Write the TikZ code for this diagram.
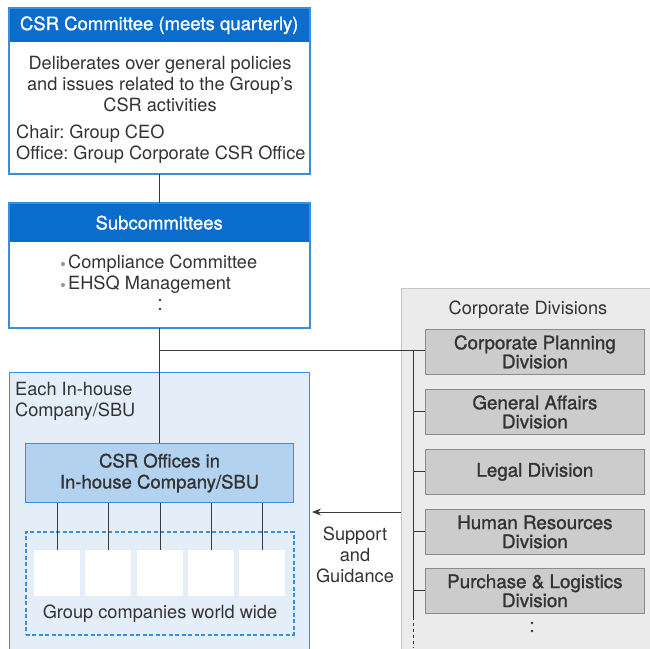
\documentclass[tikz,border=0pt]{standalone}
\usepackage{fontspec}
\setmainfont{TeX Gyre Heros}
\newfontfamily\medfont[FakeBold=1.2]{TeX Gyre Heros}
\usetikzlibrary{arrows.meta}
\definecolor{hdr}{HTML}{0A6CCB}
\definecolor{bdr}{HTML}{3A8EE0}
\definecolor{inhouse}{HTML}{E4EEF9}
\definecolor{office}{HTML}{B3D2EF}
\definecolor{graybg}{HTML}{EBEBEB}
\definecolor{graybd}{HTML}{C4C4C4}
\definecolor{divfill}{HTML}{CCCCCC}
\definecolor{divbd}{HTML}{8A8A8A}
\definecolor{txt}{HTML}{333333}
\definecolor{lnc}{HTML}{3A3A3A}
\definecolor{bul}{HTML}{9A9A9A}
\frenchspacing
\tikzset{
  bluebox/.style={draw=bdr, line width=1.1pt, fill=white, inner sep=0pt, anchor=north west},
  hdrbox/.style={fill=hdr, text=white, inner sep=0pt, anchor=north west, font=\medfont\fontsize{18.5}{21}\selectfont},
  divbox/.style={draw=divbd, line width=0.8pt, fill=divfill, inner sep=0pt, anchor=north west,
     minimum width=219, minimum height=45, align=center, font=\medfont\fontsize{18.8}{19}\selectfont},
  conn/.style={draw=lnc, line width=0.9pt},
  gbox/.style={fill=white, inner sep=0pt, anchor=north west, minimum width=46, minimum height=46},
}
\begin{document}
\begin{tikzpicture}[x=1pt,y=-1pt, font=\fontsize{18.2}{21}\selectfont, text=txt]
\useasboundingbox (0,0) rectangle (650,648);
\clip (0,0) rectangle (650,648);

% ---- CSR Committee
\node[bluebox, minimum width=300, minimum height=165] (csr) at (9,8) {};
\node[hdrbox, minimum width=300, minimum height=34] (csrh) at (9,8) {CSR Committee (meets quarterly)};
\draw[draw=bdr, line width=1.1pt] (csr.north west) rectangle (csr.south east);
\node[align=center] (csrt) at (160,84) {Deliberates over general policies\\and issues related to the Group’s\\CSR activities};
\node[align=left, anchor=west, inner sep=0pt] (csrc) at (16,144.5) {Chair: Group CEO\\Office: Group Corporate CSR Office};

% ---- Subcommittees
\node[bluebox, minimum width=300, minimum height=124] (sub) at (9,203) {};
\node[hdrbox, minimum width=300, minimum height=39] (subh) at (9,203) {Subcommittees};
\draw[draw=bdr, line width=1.1pt] (sub.north west) rectangle (sub.south east);
\node[align=left, anchor=west, inner sep=0pt] (subt) at (68,274.5) {Compliance Committee\\EHSQ Management};
\fill[bul] (63,264) circle (2.1) (63,285) circle (2.1);
\fill[txt] (160,300) circle (1.4) (160,309) circle (1.4);

% ---- In-house company
\node[draw=bdr, line width=1.1pt, fill=inhouse, inner sep=0pt, anchor=north west, minimum width=300, minimum height=290] (inh) at (9,372) {};
\node[align=left, anchor=north west, inner sep=0pt] (inht) at (15,382) {Each In-house\\Company/SBU};
\node[draw=bdr, line width=1.1pt, fill=office, inner sep=0pt, anchor=north west, minimum width=268, minimum height=59, align=center, font=\medfont\fontsize{18.5}{21}\selectfont] (off) at (25,443) {CSR Offices in\\In-house Company/SBU};
\node[draw=bdr, line width=1.7pt, dash pattern=on 4pt off 2.5pt, inner sep=0pt, anchor=north west, minimum width=268, minimum height=103] (grp) at (25,531) {};
\node[gbox] (g1) at (34,550) {};
\node[gbox] (g2) at (85,550) {};
\node[gbox] (g3) at (137,550) {};
\node[gbox] (g4) at (188,550) {};
\node[gbox] (g5) at (239,550) {};
\node (grpt) at (160,614) {Group companies world wide};
\foreach \g in {g1,g2,g3,g4,g5} { \draw[conn] (off.south -| \g.north) -- (\g.north); }

% ---- Corporate divisions
\node[draw=graybd, line width=1pt, fill=graybg, inner sep=0pt, anchor=north west, minimum width=260, minimum height=380] (corp) at (401,288) {};
\node (corpt) at (528,310) {Corporate Divisions};
\node[divbox] (d1) at (425,329) {Corporate Planning\\Division};
\node[divbox] (d2) at (425,389) {General Affairs\\Division};
\node[divbox] (d3) at (425,449) {Legal Division};
\node[divbox] (d4) at (425,509) {Human Resources\\Division};
\node[divbox] (d5) at (425,568) {Purchase \& Logistics\\Division};
\fill[txt] (532,623) circle (1.4) (532,631) circle (1.4);

% ---- connectors
\draw[conn] (csr.south) -- (sub.north);
\draw[conn] (sub.south) -- (off.north);
\coordinate (bj) at (160,350);
\coordinate (bus) at (413,350);
\coordinate (busend) at (413,617);
\coordinate (busfree) at (413,648);
\draw[conn] (bj) -- (d1.west |- bj);
\draw[conn] (bus) -- (busend);
\draw[conn, dash pattern=on 3pt off 3pt] (busend) -- (busfree);
\foreach \d in {d2,d3,d4,d5} { \draw[conn] (bus |- \d.west) -- (\d.west); }
\coordinate (arrs) at (401,512);
\coordinate (arre) at (312,512);
\draw[conn, -{Stealth[length=9pt,width=7pt]}] (corp.west |- arrs) -- (arre);
\node[align=center] (sg) at (355,555) {Support\\and\\Guidance};
\end{tikzpicture}
\end{document}
